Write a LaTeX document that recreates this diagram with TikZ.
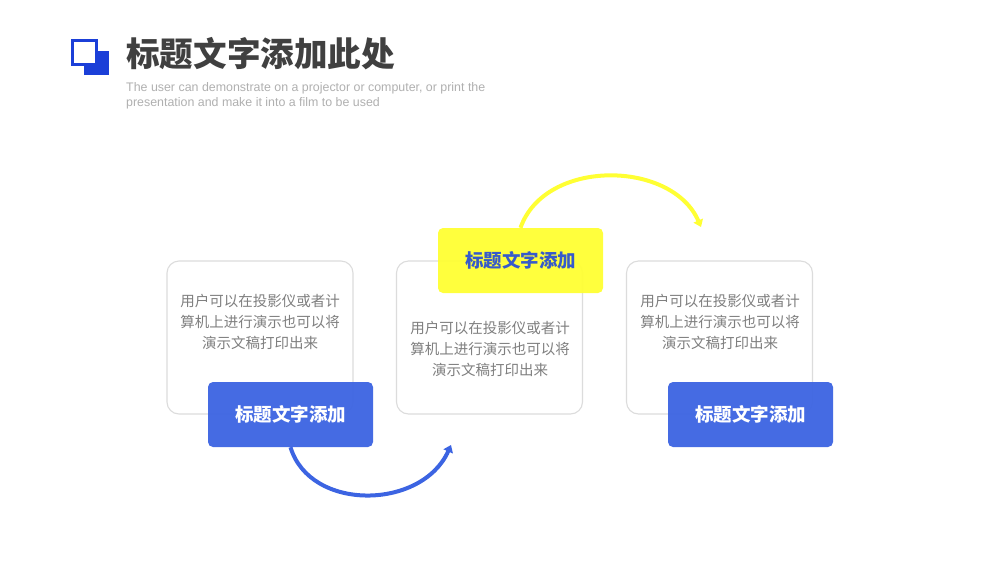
\documentclass[tikz,border=0pt]{standalone}
\usepackage{fontspec}
\setmainfont{Liberation Sans}
\newfontfamily\cjk{Noto Sans CJK SC}
\usetikzlibrary{arrows.meta}
\definecolor{mblue}{HTML}{3C64E2}
\definecolor{iconblue}{HTML}{1B3FD8}
\definecolor{myellow}{HTML}{FFFF33}
\definecolor{titlegray}{HTML}{404040}
\definecolor{subgray}{HTML}{B0B0B0}
\definecolor{bodygray}{HTML}{7F7F7F}
\definecolor{boxline}{HTML}{DCDCDC}
\tikzset{
  card/.style={draw=boxline, line width=1.1pt, fill=white, rounded corners=12pt, minimum width=186pt, minimum height=153pt, inner sep=0pt},
  bodytext/.style={font=\cjk\fontsize{14.5}{21}\selectfont, text=bodygray, align=center, inner sep=0pt},
  bluelabel/.style={fill=mblue, fill opacity=0.95, text opacity=1, rounded corners=5pt, minimum width=165pt, minimum height=65pt, inner sep=0pt, text=white, font=\cjk\bfseries\fontsize{18.5}{20}\selectfont},
  yellowlabel/.style={fill=myellow, fill opacity=0.95, text opacity=1, rounded corners=5pt, minimum width=165pt, minimum height=65pt, inner sep=0pt, text=mblue!90!black, font=\cjk\bfseries\fontsize{18.5}{20}\selectfont},
  bluearc/.style={draw=mblue, line width=4pt, -{Triangle[length=7pt,width=10pt]}},
  yellowarc/.style={draw=myellow, line width=4pt, -{Triangle[length=7pt,width=10pt]}},
}
\begin{document}
\begin{tikzpicture}[x=1pt,y=-1pt]
\useasboundingbox (0,0) rectangle (1000,563);
\fill[white] (0,0) rectangle (1000,563);
% icon
\fill[iconblue] (84,51) rectangle (109,75);
\draw[iconblue, line width=2.2pt, fill=white] (72.5,40.5) rectangle (96.5,64.5);
% title
\node[anchor=west, inner sep=0pt, text=titlegray, font=\cjk\bfseries\fontsize{33.6}{36}\selectfont] (title) at (126,54) {标题文字添加此处};
\node[anchor=north west, inner sep=0pt, text=subgray, font=\fontsize{12.4}{15}\selectfont, align=left] (sub) at (126,82.5) {The user can demonstrate on a projector or computer, or print the\\presentation and make it into a film to be used};
% cards
\node[card] (c1) at (260,337.5) {};
\node[card] (c2) at (489.5,337.5) {};
\node[card] (c3) at (719.5,337.5) {};
\node[bodytext] (t1) at (260,322) {用户可以在投影仪或者计\\算机上进行演示也可以将\\演示文稿打印出来};
\node[bodytext] (t2) at (490,349) {用户可以在投影仪或者计\\算机上进行演示也可以将\\演示文稿打印出来};
\node[bodytext] (t3) at (720,322) {用户可以在投影仪或者计\\算机上进行演示也可以将\\演示文稿打印出来};
% labels
\node[bluelabel] (l1) at (290.5,414.5) {标题文字添加};
\node[yellowlabel] (l2) at (520.5,260.5) {标题文字添加};
\node[bluelabel] (l3) at (750.5,414.5) {标题文字添加};
% arcs
\coordinate (e1) at (451,445);
\coordinate (e2) at (701,227);
\draw[bluearc] (l1.south) .. controls (310,512) and (422,510) .. (e1);
\draw[yellowarc] (l2.north) .. controls (545,158) and (672,160) .. (e2);
\end{tikzpicture}
\end{document}
